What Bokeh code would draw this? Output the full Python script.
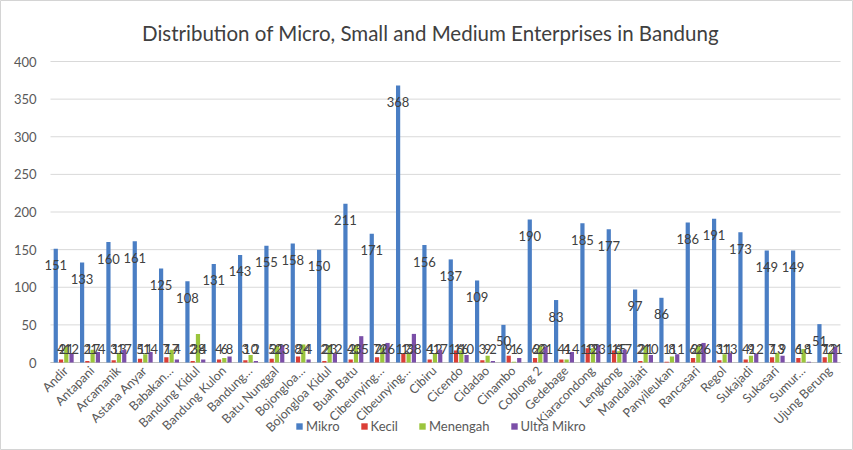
import numpy as np
from bokeh.plotting import figure
from bokeh.models import ColumnDataSource, Legend, LegendItem
from bokeh.core.properties import value
from bokeh.embed import file_html
from bokeh.resources import INLINE

chart_title = "Distribution of Micro, Small and Medium Enterprises in Bandung"
districts = ["Andir", "Antapani", "Arcamanik", "Astana Anyar", "Babakan…", "Bandung Kidul",
             "Bandung Kulon", "Bandung…", "Batu Nunggal", "Bojongloa…", "Bojongloa Kidul",
             "Buah Batu", "Cibeunying…", "Cibeunying…", "Cibiru", "Cicendo", "Cidadao",
             "Cinambo", "Coblong 2", "Gedebage", "Kiaracondong", "Lengkong", "Mandalajati",
             "Panyileukan", "Rancasari", "Regol", "Sukajadi", "Sukasari", "Sumur…", "Ujung Berung"]
mikro = [151, 133, 160, 161, 125, 108, 131, 143, 155, 158, 150, 211, 171, 368, 156, 137, 109,
         50, 190, 83, 185, 177, 97, 86, 186, 191, 173, 149, 149, 51]
kecil = [4, 2, 3, 5, 7, 2, 4, 3, 5, 8, 2, 4, 7, 12, 4, 16, 3, 9, 6, 4, 19, 16, 2, 1, 6, 3, 4, 7, 6, 7]
menengah = [21, 17, 13, 11, 17, 38, 6, 10, 22, 24, 23, 23, 20, 12, 12, 16, 9, 1, 22, 4, 19, 15,
            21, 8, 22, 11, 9, 13, 18, 12]
ultra_mikro = [12, 14, 17, 14, 4, 4, 8, 2, 23, 4, 12, 35, 26, 38, 17, 10, 2, 6, 21, 14, 23, 17,
               10, 11, 26, 13, 12, 9, 1, 21]
y_ticks = [0, 50, 100, 150, 200, 250, 300, 350, 400]
series_names = ["Mikro", "Kecil", "Menengah", "Ultra Mikro"]
colors = ["#4A7EC4", "#DB3E36", "#9BC53D", "#7B4FA8"]

FONT = "Lato"
W, H = 853, 450
n = len(districts)
xs = np.arange(n)

# pixel layout of the plotting area inside the full canvas
PL, PR, PT, PB = 50, 840, 61, 362           # x of first/last edge, y of top tick / baseline
ppu_x = (PR - PL) / n
upp_y = max(y_ticks) / (PB - PT)
x_start = -0.5 - PL / ppu_x
x_end = n - 0.5 + (W - PR) / ppu_x
y_start = -(H - PB) * upp_y
y_end = max(y_ticks) + PT * upp_y

p = figure(width=W, height=H, output_backend="svg", toolbar_location=None,
           x_range=(x_start, x_end), y_range=(y_start, y_end),
           min_border=0, x_axis_type=None, y_axis_type=None)
p.frame_width = W
p.frame_height = H
p.outline_line_color = "#D4D4D4"
p.background_fill_color = "white"
p.border_fill_color = "white"
p.xgrid.visible = False
p.ygrid.visible = False

# gridlines and y tick labels
yt = np.array(y_ticks, dtype=float)
p.segment(x0=np.full(len(yt), -0.5), x1=np.full(len(yt), n - 0.5), y0=yt, y1=yt,
          line_color="#D9D9D9", line_width=1)
p.segment(x0=[-0.5], x1=[n - 0.5], y0=[0], y1=[0], line_color="#BFBFBF", line_width=1)
p.text(x=np.full(len(yt), -0.5), y=yt, text=[str(t) for t in y_ticks], x_offset=-14,
       text_align="right", text_baseline="middle", text_font=value(FONT),
       text_font_size="13px", text_color="#595959")

# title
p.text(x=[-0.5 + (430 - PL) / ppu_x], y=[max(y_ticks) + (PT - 35) * upp_y], text=[chart_title],
       text_align="center", text_baseline="middle", y_offset=-3, text_font=value(FONT),
       text_font_size="20.5px", text_color="#404040")

offsets = [-0.3, -0.1, 0.1, 0.3]
all_series = [mikro, kecil, menengah, ultra_mikro]
renderers = []
for vals, off, col in zip(all_series, offsets, colors):
    v = np.array(vals, dtype=float)
    src = ColumnDataSource(dict(x=xs + off, top=v, ly=np.maximum(v - 22, 18),
                                lbl=[str(int(a)) for a in v]))
    r = p.vbar(x="x", top="top", width=0.16, source=src, fill_color=col, line_color=None)
    renderers.append(r)
    p.text(x="x", y="ly", text="lbl", source=src, text_align="center",
           text_baseline="middle", text_font=value(FONT), text_font_size="13px",
           text_color="#404040")

# category labels, rotated
p.text(x=xs, y=np.zeros(n), text=districts, angle=np.pi / 4, x_offset=2, y_offset=6,
       text_align="right", text_baseline="middle", text_font=value(FONT),
       text_font_size="12.5px", text_color="#595959")

legend = Legend(items=[LegendItem(label=nm, renderers=[r]) for nm, r in zip(series_names, renderers)],
                orientation="horizontal", location=(295, 16), glyph_width=8, glyph_height=8,
                label_text_font=FONT, label_text_font_size="13px", label_text_color="#595959",
                spacing=20, padding=0, margin=0, background_fill_alpha=0, border_line_color=None,
                label_standoff=3)
p.add_layout(legend, "center")

open("out.html", "w").write(file_html(p, INLINE))
